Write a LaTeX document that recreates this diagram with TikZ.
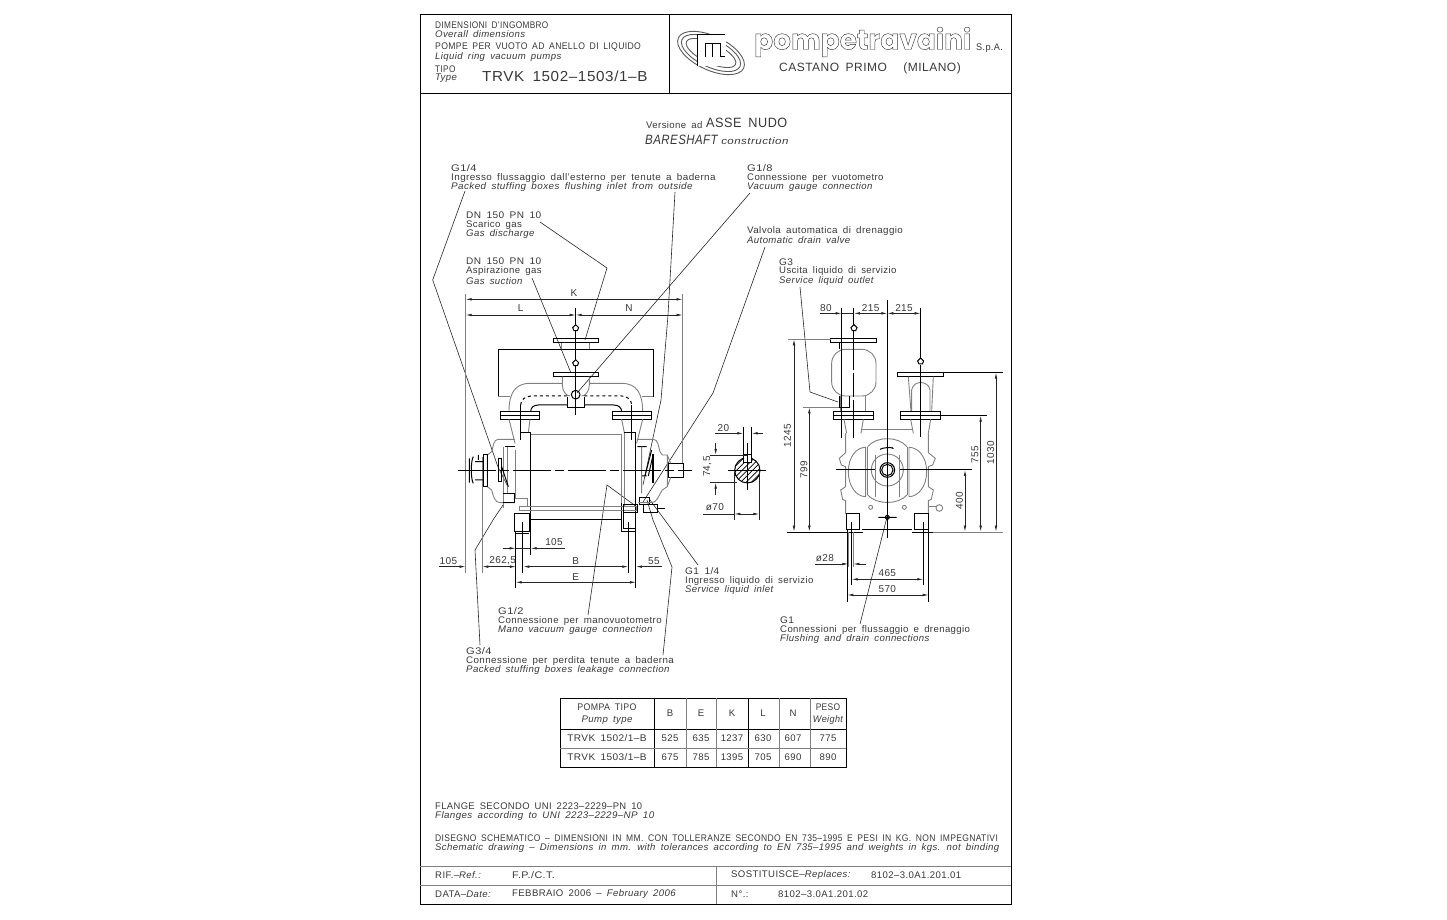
\documentclass[tikz,border=0pt]{standalone}
\usepackage{fontspec}
\setmainfont{Liberation Sans}[LetterSpace=4,WordSpace=1.7]
\newfontfamily\logofont{Poppins}
\usetikzlibrary{arrows.meta}
\definecolor{inkc}{gray}{0.22}
\newcommand{\outlined}[1]{\special{pdf:code 1 Tr 0.45 w}#1\special{pdf:code 0 Tr}}
\newcommand{\flowmark}[2]{\draw[bl,fill=white] (#1,#2-9)--(#1+9,#2)--(#1+5,#2+9)--(#1-5,#2+9)--(#1-9,#2)--cycle;}
\tikzset{
  txt/.style={anchor=west,inner sep=0pt,text=inkc,font=\fontsize{9.6}{10}\selectfont},
  itxt/.style={txt,font=\fontsize{9.6}{10}\selectfont\itshape},
  caps/.style={txt,xscale=0.86},
  gtitle/.style={txt,xscale=1.05},
  mid/.style={inner sep=0pt,text=inkc,font=\fontsize{9.6}{10}\selectfont},
  imid/.style={mid,font=\fontsize{9.6}{10}\selectfont\itshape},
  dimt/.style={inner sep=0pt,text=inkc,font=\fontsize{10}{10}\selectfont},
  bl/.style={black,line width=1pt},
  gl/.style={black!50,line width=0.9pt},
  dimln/.style={black!85,line width=0.7pt,>={Latex[length=6pt,width=2.6pt]}},
  leader/.style={black!85,line width=0.6pt},
  centre/.style={black,line width=1pt,dash pattern=on 38pt off 4pt on 9pt off 4pt},
}
\begin{document}
\begin{tikzpicture}[x=1pt,y=-1pt]
\useasboundingbox (0,0) rectangle (1447,920);
\draw[black,line width=1pt] (420,15) rectangle (1011,904);
\draw[black,line width=1pt] (420,94)--(1011,94) (669,15)--(669,94);
\draw[gl] (420,866)--(1011,866) (420,885)--(1011,885) (716,866)--(716,904);
% header
\node[caps] (dimit) at (435,25) {DIMENSIONI D'INGOMBRO};
\node[itxt] (dimen) at (435,34.5) {Overall dimensions};
\node[caps,xscale=0.9/0.86] (pompit) at (435,47) {POMPE PER VUOTO AD ANELLO DI LIQUIDO};
\node[itxt] (pompen) at (435,57) {Liquid ring vacuum pumps};
\node[caps] (tipoit) at (435,69) {TIPO};
\node[itxt] (tipoen) at (435,78) {Type};
\node[txt,xscale=1.05,font=\fontsize{14.5}{15}\selectfont] (tipoval) at (482,76) {TRVK 1502–1503/1–B};
% logo
\draw[gl,black!65,rotate around={-25:(711,53)}] (711,53) ellipse (36 and 17);
\draw[gl,black!65,rotate around={-25:(711,53)}] (711,53) ellipse (32 and 14);
\draw[gl,black!65,rotate around={-25:(711,53)}] (711,53) ellipse (27 and 10);
\draw[white,fill=white] (697,35) rectangle (725,65);
\draw[bl] (697,66)--(697,35)--(725,35) (705,57)--(705,44)--(712,44)--(712,57) (712,44)--(720,44)--(720,57)--(725,57);
\node[txt,font=\fontsize{28}{28}\selectfont\logofont\bfseries] (logoname) at (754,42) {\outlined{pompetravaini}};
\node[txt,xscale=0.95] (logospa) at (976,48) {S.p.A.};
\node[txt,font=\fontsize{12}{12}\selectfont] (logotown) at (779,68) {CASTANO PRIMO\hspace{10pt} (MILANO)};
% title
\node[txt] (titit) at (646,125) {Versione ad};
\node[txt,xscale=0.94,font=\fontsize{13.5}{14}\selectfont] (titasse) at (706,123) {ASSE NUDO};
\node[itxt,xscale=0.85,font=\fontsize{13.5}{14}\selectfont\itshape] (titbare) at (645,140) {BARESHAFT};
\node[itxt,xscale=1.2] (titcons) at (721,141.5) {construction};
% callouts
\node[gtitle,xscale=1.15/1.05] (gqtitle) at (451,168) {G1/4};
\node[txt,xscale=1.03] (gqit) at (451,178) {Ingresso flussaggio dall'esterno per tenute a baderna};
\node[itxt,xscale=1.03] (gqen) at (451,187) {Packed stuffing boxes flushing inlet from outside};
\node[gtitle] (dnatitle) at (466,215) {DN 150 PN 10};
\node[txt] (dnait) at (466,225) {Scarico gas};
\node[itxt] (dnaen) at (466,234) {Gas discharge};
\node[gtitle] (dnbtitle) at (466,261) {DN 150 PN 10};
\node[txt] (dnbit) at (466,271) {Aspirazione gas};
\node[itxt] (dnben) at (466,281) {Gas suction};
\node[gtitle,xscale=1.15/1.05] (gotitle) at (747,168) {G1/8};
\node[txt] (goit) at (747,178) {Connessione per vuotometro};
\node[itxt] (goen) at (747,187) {Vacuum gauge connection};
\node[txt,xscale=1.02] (valit) at (747,231) {Valvola automatica di drenaggio};
\node[itxt] (valen) at (747,240) {Automatic drain valve};
\node[gtitle] (gttitle) at (779,262) {G3};
\node[txt] (gtit) at (779,271) {Uscita liquido di servizio};
\node[itxt] (gten) at (779,281) {Service liquid outlet};
\node[gtitle] (gstitle) at (685,571) {G1 1/4};
\node[txt] (gsit) at (685,581) {Ingresso liquido di servizio};
\node[itxt] (gsen) at (685,590) {Service liquid inlet};
\node[gtitle,xscale=1.15/1.05] (ghtitle) at (498,611) {G1/2};
\node[txt,xscale=1.01] (ghit) at (498,621) {Connessione per manovuotometro};
\node[itxt] (ghen) at (498,630) {Mano vacuum gauge connection};
\node[gtitle,xscale=1.15/1.05] (gptitle) at (466,651) {G3/4};
\node[txt,xscale=1.02] (gpit) at (466,661) {Connessione per perdita tenute a baderna};
\node[itxt,xscale=1.01] (gpen) at (466,670) {Packed stuffing boxes leakage connection};
\node[gtitle] (gfltitle) at (780,620) {G1};
\node[txt] (gflit) at (780,630) {Connessioni per flussaggio e drenaggio};
\node[itxt] (gflen) at (780,639) {Flushing and drain connections};
% leaders
\coordinate (tipgq) at (508,487);
\coordinate (tipgr) at (643,485);
\coordinate (tipdna) at (585,340);
\coordinate (tipdnb) at (571,373);
\coordinate (tipgo) at (577,393);
\coordinate (tipval) at (643,502);
\coordinate (tipgt) at (838,402);
\coordinate (tipgs) at (650,500);
\coordinate (tipgh) at (637,507);
\coordinate (tipgpa) at (503,505);
\coordinate (tipgpb) at (647,500);
\coordinate (tipgfl) at (887,517);
\draw[leader] (465,191)--(432.7,280)--(498,467)--(tipgq);
\draw[leader] (675,192)--(668,315)--(661,400)--(tipgr);
\draw[leader] (540,222)--(607,268)--(tipdna);
\draw[leader] (532,278)--(tipdnb);
\draw[leader] (750,193)--(tipgo);
\draw[leader] (765,247)--(713,393)--(tipval);
\draw[leader] (800,287)--(810,392)--(tipgt);
\draw[leader] (698,565)--(tipgs);
\draw[leader] (588,615)--(607,485)--(tipgh);
\draw[leader] (480,645)--(475,550)--(493,520)--(tipgpa);
\draw[leader] (663,655)--(672,567)--(653,520)--(tipgpb);
\draw[leader] (860,624)--(tipgfl);
% front view
\begin{scope}[shift={(430,290)},scale=0.3333]
\draw[gl] (107,12)--(107,850) (157,500)--(157,850) (758,12)--(758,520);
\draw[bl] (370,147) rectangle (505,158) (370,248) rectangle (505,260);
\draw[gl] (395,158)--(395,178) (478,158)--(478,178);
\draw[bl] (205,320)--(205,178)--(670,178)--(670,320);
\draw[gl] (205,320)--(240,320) (637,320)--(670,320);
\draw[gl] (397,260)--(397,285) .. controls (397,305) and (410,318) .. (420,318);
\draw[gl] (478,260)--(478,285) .. controls (478,305) and (465,318) .. (455,318);
\draw[gl] (237,365) .. controls (237,310) and (255,280) .. (300,280)--(397,280);
\draw[gl] (478,280)--(575,280) .. controls (620,280) and (638,310) .. (638,365);
\draw[bl,dashed] (272,345) .. controls (272,330) and (285,318) .. (305,318)--(412,318);
\draw[bl,dashed] (463,318)--(575,318) .. controls (592,318) and (605,330) .. (605,345);
\draw[bl] (302,365) .. controls (302,352) and (312,345) .. (325,345)--(412,345);
\draw[bl] (463,345)--(550,345) .. controls (565,345) and (575,352) .. (575,365);
\draw[bl] (412,320)--(412,352)--(463,352)--(463,320);
\draw[bl] (437,55)--(437,375);
\draw[bl] (437,314) circle (13);
\flowmark{437}{113}
\flowmark{437}{218}
\foreach \fx/\fy in {210/328,548/664}{
  \draw[bl] (\fx,365) rectangle (\fy,388);
  \draw[bl] (\fx,377)--(\fy,377);
}
\draw[bl] (272,345)--(272,450) (605,345)--(605,450);
\draw[gl] (237,388)--(255,460) (300,388)--(295,428) (638,388)--(620,460) (575,388)--(583,428);
\draw[bl] (270,428)--(302,428) (582,428)--(618,428);
% body
\draw[gl] (302,433)--(575,433) (302,648)--(582,648) (575,433)--(575,650) (583,428)--(583,650);
\draw[bl] (302,428)--(302,795) (302,690)--(575,690) (618,428)--(618,895);
\draw[gl] (255,480)--(255,625) (255,625)--(292,625)--(292,650);
\draw[bl] (255,670)--(255,725)--(298,725)--(298,670)--(255,670) (255,732)--(298,732) (257,725)--(257,895);
\draw[bl] (575,640)--(575,725)--(618,725) (582,670)--(582,715)--(618,715);
\draw[bl] (278,695)--(278,850) (595,695)--(595,850);
\draw[gl,line width=1.1pt] (268,650) rectangle (620,662);
\draw[bl] (582,645) rectangle (622,668);
\draw[bl] (628,622) rectangle (660,645) (640,645) rectangle (682,668) (682,657)--(705,657);
% bearings
\draw[gl] (255,448)--(205,448) .. controls (190,448) and (190,470) .. (185,485)--(172,495)--(172,590)--(185,600) .. controls (190,620) and (195,638) .. (210,638)--(255,638);
\draw[gl] (220,470)--(220,655) (232,470)--(232,612);
\draw[bl] (220,612)--(255,612)--(255,638)--(220,638) (225,470)--(255,470);
\draw[bl] (160,495) rectangle (172,590) (205,505) rectangle (213,575);
\draw[bl] (215,530)--(235,590);
\draw[bl] (118,505)--(118,578) (130,500) .. controls (122,510) and (122,570) .. (130,580) (135,515)--(160,515) (135,570)--(160,570) (145,495)--(145,510);
\draw[gl] (620,448)--(670,448) .. controls (685,448) and (685,470) .. (690,485)--(697,495)--(712,495)--(712,590)--(697,600) .. controls (685,620) and (680,638) .. (665,638)--(625,638);
\draw[bl] (667,495) rectangle (672,578) (715,520) rectangle (760,562);
\draw[bl] (645,558)--(665,480) (655,558)--(668,500) (635,558)--(650,558) (622,470)--(650,470);
\draw[gl] (635,470)--(635,610) (712,495)--(722,520) (712,590)--(722,562);
\draw[centre] (85,542)--(785,542);
% dimensions
\draw[dimln,<->] (107,28)--(758,28);
\draw[dimln,<->] (107,75)--(437,75);
\draw[dimln,<->] (437,75)--(758,75);
\draw[dimln,->] (218,775)--(257,775);
\draw[dimln,->] (405,775)--(302,775);
\draw[dimln,-] (257,775)--(302,775);
\draw[dimln,<-] (107,830)--(28,830);
\draw[dimln,<->] (157,830)--(258,830);
\draw[dimln,<->] (280,830)--(595,830);
\draw[dimln,<-] (618,830)--(695,830);
\draw[dimln,<->] (257,877)--(618,877);
\node[dimt] (dimk) at (432,10) {K};
\node[dimt] (diml) at (272,55) {L};
\node[dimt] (dimn) at (597,55) {N};
\node[dimt] (dimfoot) at (372,757) {105};
\node[dimt] (dimshaft) at (55,813) {105};
\node[dimt] (dimhead) at (218,813) {262,5};
\node[dimt] (dimb) at (437,813) {B};
\node[dimt] (dimright) at (672,813) {55};
\node[dimt] (dime) at (437,860) {E};
\end{scope}
% key section and side view
\begin{scope}[shift={(700,290)},scale=0.3333]
\begin{scope}
\clip (142,541) circle (38);
\foreach \hh in {-80,-64,...,80}{
  \draw[bl,line width=0.7pt] (142+\hh-45,586)--(142+\hh+45,496);
}
\end{scope}
\draw[bl] (142,541) circle (38);
\draw[bl,fill=white] (130,495) rectangle (155,517);
\draw[bl] (130,410)--(130,495) (155,410)--(155,495) (142,460)--(142,600) (85,541)--(198,541);
\draw[dimln,->] (45,430)--(130,430);
\draw[dimln,->] (190,430)--(155,430);
\draw[dimln,->] (47,460)--(47,495);
\draw[dimln,->] (47,615)--(47,578);
\draw[dimln] (30,495)--(140,495) (30,578)--(110,578) (103,545)--(103,690) (178,545)--(178,690);
\draw[dimln,<->] (103,672)--(178,672);
\draw[dimln] (10,672)--(103,672);
\node[dimt] (keyw) at (70,413) {20};
\node[dimt,rotate=90] (keyh) at (22,530) {74,5};
\node[dimt] (keyd) at (45,652) {ø70};
% left stack
\draw[bl] (393,147) rectangle (530,158);
\draw[gl] (265,148)--(393,148) (310,352)--(420,352);
\draw[gl,rounded corners=14pt] (395,178) rectangle (528,318);
\draw[gl] (420,318)--(420,365) (495,318)--(495,365);
\draw[bl] (420,158)--(420,178) (420,318)--(420,352)--(450,352)--(450,318);
\draw[bl] (402,365) rectangle (520,388) (402,377)--(520,377);
\draw[gl] (432,388)--(440,430) (490,388)--(483,430);
\draw[bl] (425,55)--(425,445) (462,55)--(462,240);
\draw[bl] (462,250)--(462,320) (462,330)--(462,445);
\flowmark{462}{113}
% right stack
\draw[bl] (593,247) rectangle (730,260);
\draw[bl] (730,248)--(908,248) (722,377)--(860,377);
\draw[gl] (625,260)--(633,365) (700,260)--(695,365);
\draw[gl] (635,300) .. controls (640,270) and (685,270) .. (690,300) (635,300)--(635,365) (690,300)--(690,365);
\draw[bl] (603,365) rectangle (722,388) (603,377)--(722,377);
\draw[gl] (632,388)--(640,430) (692,388)--(685,430);
\draw[bl] (662,55)--(662,205);
\draw[bl] (662,225)--(662,440);
\flowmark{662}{213}
\draw[gl] (483,418)--(640,418);
% casing
\draw[gl] (437,430)--(437,488)--(418,505)--(424,525)--(437,530)--(437,590)--(422,600)--(428,628)--(437,632)--(437,672);
\draw[gl] (685,430)--(685,488)--(706,505)--(698,525)--(685,530)--(685,590)--(700,600)--(694,628)--(685,632)--(685,672);
\draw[gl] (497,472) .. controls (470,472) and (445,500) .. (445,545) .. controls (445,590) and (470,620) .. (497,620)--cycle;
\draw[gl] (627,472) .. controls (654,472) and (680,500) .. (680,545) .. controls (680,590) and (654,620) .. (627,620)--cycle;
\draw[gl] (503,470) .. controls (530,438) and (594,438) .. (621,470);
\draw[gl] (503,615) .. controls (530,645) and (594,645) .. (621,615);
\draw[gl] (503,470)--(503,615) (621,470)--(621,615) (527,495)--(527,620) (597,495)--(597,620);
\draw[bl] (562,540) circle (22) (562,540) circle (17);
\draw[gl] (562,540) circle (48);
\draw[bl,->,>={Latex[length=3pt,width=1.5pt]}] (540,478) .. controls (550,472) and (574,472) .. (584,478);
\draw[gl] (512,652) circle (6) (613,652) circle (6);
\draw[bl] (562,682) circle (6) (535,682)--(590,682);
\draw[gl] (685,650)--(712,650);
\draw[gl] (718,654) circle (10);
\draw[bl] (440,672) rectangle (480,720);
\draw[bl] (645,672) rectangle (687,720);
\draw[bl] (487,720)--(637,720) (262,727)--(490,727) (635,727)--(700,727);
\draw[gl] (700,727)--(910,727);
\draw[bl] (562,30)--(562,745) (408,540)--(525,540) (600,540)--(815,540);
% bolts
\draw[bl] (455,695)--(455,885) (670,695)--(670,885) (442,720)--(442,935) (686,720)--(686,935);
\draw[gl] (445,727)--(445,830) (460,727)--(460,830);
\draw[dimln,<->] (282,148)--(282,725);
\draw[dimln,<->] (328,352)--(328,725);
\draw[dimln,<->] (795,540)--(795,725);
\draw[dimln,<->] (842,377)--(842,725);
\draw[dimln,<->] (888,248)--(888,725);
\draw[dimln,->] (360,70)--(425,70);
\draw[dimln,<->] (462,70)--(562,70);
\draw[dimln,<->] (562,70)--(662,70);
\draw[dimln] (425,70)--(462,70);
\draw[dimln,->] (345,822)--(445,822);
\draw[dimln,->] (498,822)--(460,822);
\draw[dimln,<->] (455,868)--(670,868);
\draw[dimln,<->] (442,915)--(686,915);
\node[dimt] (sidea) at (378,55) {80};
\node[dimt] (sideb) at (512,55) {215};
\node[dimt] (sidec) at (612,55) {215};
\node[dimt,rotate=90] (sided) at (262,437) {1245};
\node[dimt,rotate=90] (sidee) at (312,540) {799};
\node[dimt,rotate=90] (sidef) at (778,633) {400};
\node[dimt,rotate=90] (sideg) at (825,495) {755};
\node[dimt,rotate=90] (sideh) at (872,487) {1030};
\node[dimt] (sidei) at (375,805) {ø28};
\node[dimt] (sidej) at (562,850) {465};
\node[dimt] (sidek) at (562,897) {570};
\end{scope}
% table
\draw[black,line width=1pt] (560,698) rectangle (846,767);
\draw[black,line width=1pt] (560,729)--(846,729) (654,698)--(654,767) (748,698)--(748,767);
\draw[gl] (560,748)--(846,748) (686,698)--(686,767) (716,698)--(716,767) (779,698)--(779,767) (810,698)--(810,767);
\node[mid,xscale=0.92] (pumpit) at (607,707) {POMPA TIPO};
\node[imid] (pumpen) at (607,720) {Pump type};
\node[mid,xscale=1.05] (rowa) at (607,738) {TRVK 1502/1–B};
\node[mid,xscale=1.05] (rowb) at (607,757) {TRVK 1503/1–B};
\foreach \cx/\chead/\cva/\cvb in {670/B/525/675,701/E/635/785,732/K/1237/1395,763/L/630/705,793/N/607/690}{
  \node[mid] (head\chead) at (\cx,713.5) {\chead};
  \node[mid] (vala\chead) at (\cx,738) {\cva};
  \node[mid] (valb\chead) at (\cx,757) {\cvb};
}
\node[mid,xscale=0.88] (pesoit) at (828,707) {PESO};
\node[imid,xscale=0.95] (pesoen) at (828,720) {Weight};
\node[mid] (pesoa) at (828,738) {775};
\node[mid] (pesob) at (828,757) {890};
% notes
\node[txt,xscale=0.98] (flait) at (435,806) {FLANGE SECONDO UNI 2223–2229–PN 10};
\node[itxt,xscale=1.02] (flaen) at (435,816) {Flanges according to UNI 2223–2229–NP 10};
\node[caps,xscale=0.888/0.86] (disit) at (435,838) {DISEGNO SCHEMATICO – DIMENSIONI IN MM. CON TOLLERANZE SECONDO EN 735–1995 E PESI IN KG. NON IMPEGNATIVI};
\node[itxt] (disen) at (435,848) {Schematic drawing – Dimensions in mm. with tolerances according to EN 735–1995 and weights in kgs. not binding};
% title block
\node[txt] (rifl) at (435,875) {RIF.–\textit{Ref.:}};
\node[txt,xscale=1.12] (rifv) at (512,875) {F.P./C.T.};
\node[txt] (sosl) at (731,875) {SOSTITUISCE–\textit{Replaces:}};
\node[txt] (sosv) at (871,875) {8102–3.0A1.201.01};
\node[txt] (datl) at (435,894) {DATA–\textit{Date:}};
\node[txt] (datv) at (512,894) {FEBBRAIO 2006 – \textit{February 2006}};
\node[txt] (numl) at (731,894) {N°.:};
\node[txt] (numv) at (778,894) {8102–3.0A1.201.02};
\end{tikzpicture}
\end{document}
